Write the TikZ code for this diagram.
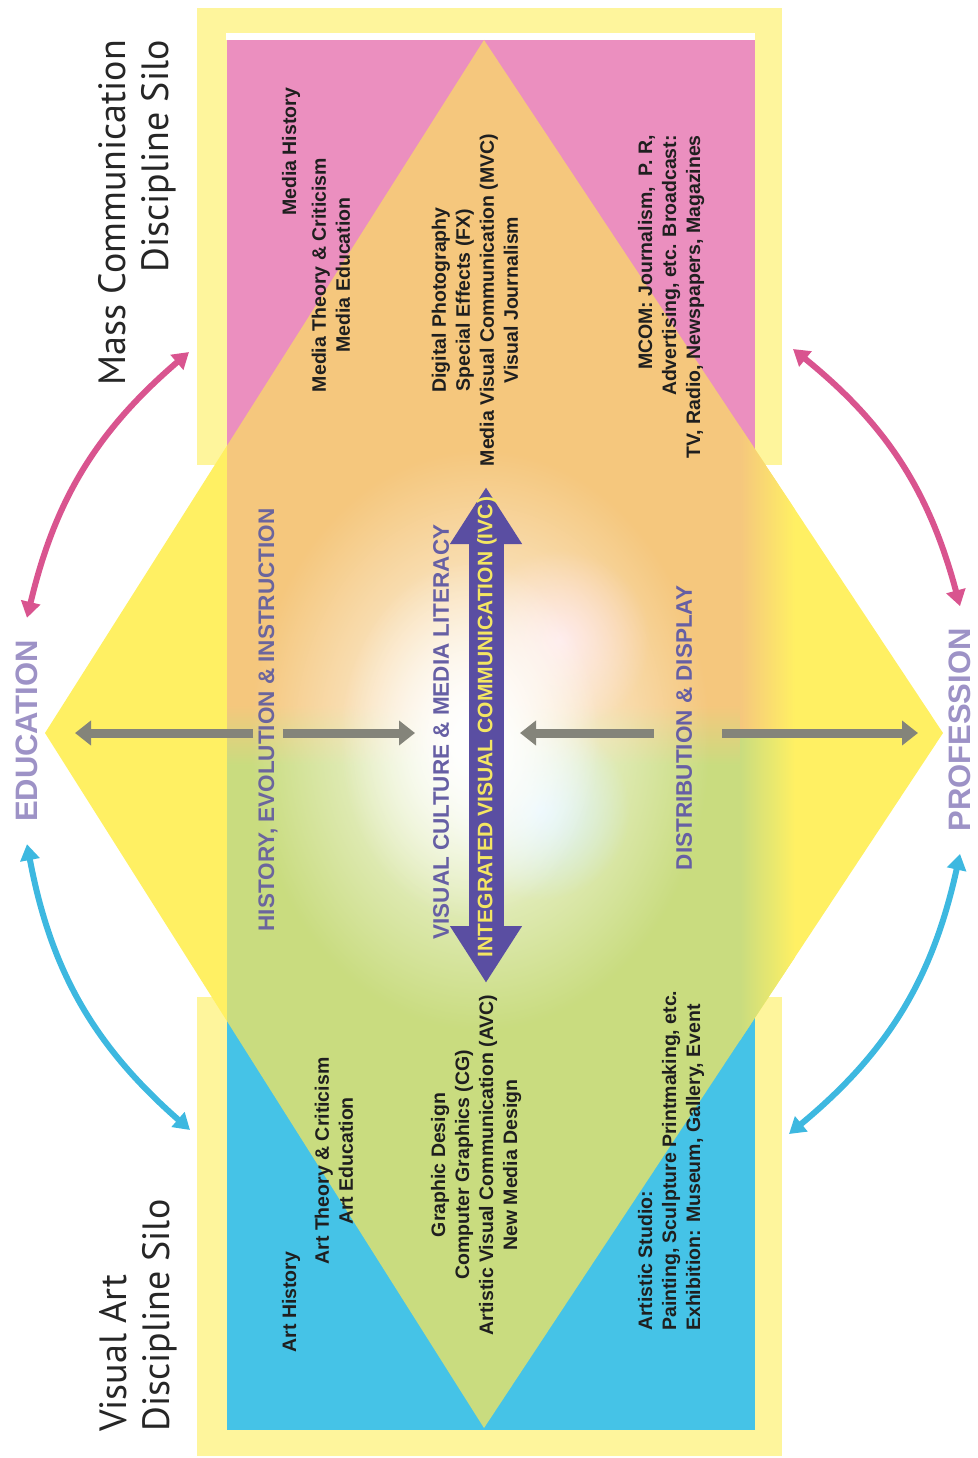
\documentclass[tikz,border=0pt]{standalone}
\usepackage{fontspec}
\setmainfont{Liberation Sans}
\newfontfamily\titlefont{PT Sans}
\usetikzlibrary{arrows.meta,fadings}
\tikzfading[name=glow, inner color=transparent!0, outer color=transparent!100]
\definecolor{pinksilo}{HTML}{EB8FBF}
\definecolor{bluesilo}{HTML}{45C3E7}
\definecolor{orangemid}{HTML}{F5C77D}
\definecolor{greenmid}{HTML}{C9DC7F}
\definecolor{yellowdia}{HTML}{FFF063}
\definecolor{yellowframe}{HTML}{FEF59C}
\definecolor{grayarr}{HTML}{84847A}
\definecolor{ivcblue}{HTML}{5A4EA2}
\definecolor{ivctext}{HTML}{F4E662}
\definecolor{headpurple}{HTML}{665FA4}
\definecolor{lavender}{HTML}{9D92C6}
\definecolor{magentaarr}{HTML}{D9548F}
\definecolor{cyanarr}{HTML}{3DB8E0}
\begin{document}
\begin{tikzpicture}[
  x=1pt, y=-1pt,
  rot/.style={rotate=90, inner sep=0pt},
  head/.style={rot, inner ysep=5pt, font=\bfseries\fontsize{22.5}{27}\selectfont, text=headpurple},
  item/.style={rot, font=\bfseries\fontsize{19.5}{24}\selectfont, text=black!88, align=center},
  silotitle/.style={rot, font=\titlefont\fontsize{38}{43}\selectfont, text=black!85},
  pole/.style={rot, inner xsep=22pt, font=\bfseries\fontsize{31}{36}\selectfont, text=lavender},
  bow/.style={line width=6pt, {Triangle[length=16pt,width=19pt]}-{Triangle[length=16pt,width=19pt]}},
  link/.style={line width=9pt, grayarr, -{Triangle[length=16pt,width=24pt]}},
  ivcarrow/.style={line width=35pt, ivcblue, {Triangle[length=57pt,width=68pt]}-{Triangle[length=57pt,width=68pt]}}
]
\useasboundingbox (0,0) rectangle (977,1458);

\fill[yellowframe] (197,8) rectangle (782,465);
\fill[yellowframe] (197,997) rectangle (782,1456);
\fill[yellowdia] (484,40) -- (943,733) -- (484,1428) -- (45,733) -- cycle;
\fill[white] (226,33) rectangle (755,40);
\fill[pinksilo] (227,40) rectangle (755,465);
\fill[bluesilo] (227,1000) rectangle (755,1430);
\begin{scope}
  \clip (484,40) -- (943,733) -- (484,1428) -- (45,733) -- cycle;
  \fill[orangemid] (227,0) rectangle (755,733);
  \fill[greenmid] (227,733) rectangle (755,1458);
  \shade[top color=orangemid, bottom color=greenmid] (227,705) rectangle (755,765);
  \shade[left color=orangemid, right color=yellowdia] (740,0) rectangle (795,733);
  \shade[left color=greenmid, right color=yellowdia] (740,733) rectangle (795,1458);
  \fill[pink!60, path fading=glow] (560,640) ellipse [x radius=90, y radius=90];
  \fill[cyan!25, path fading=glow] (540,810) ellipse [x radius=90, y radius=90];
  \fill[white, path fading=glow] (480,740) ellipse [x radius=230, y radius=290];
  \fill[white, path fading=glow] (470,740) ellipse [x radius=130, y radius=180];
\end{scope}

\coordinate (ivcN) at (486,487);
\coordinate (ivcS) at (486,983);
\draw[ivcarrow] (ivcN) -- (ivcS);

\node[silotitle, align=right, anchor=east] (mctitle) at (137,40) {Mass Communication\\Discipline Silo};
\node[silotitle, align=left, anchor=west] (vatitle) at (138,1432) {Visual Art\\Discipline Silo};
\node[pole] (edu) at (27,731) {EDUCATION};
\node[pole] (prof) at (960,730) {PROFESSION};

\node[head, text=headpurple!80!gray] (hist) at (268,720) {HISTORY, EVOLUTION \& INSTRUCTION};
\node[head] (vcml) at (441,732) {VISUAL CULTURE \& MEDIA LITERACY};
\node[head, text=ivctext, font=\bfseries\fontsize{21}{25}\selectfont] (ivc) at (487,727) {INTEGRATED VISUAL COMMUNICATION (IVC)};
\node[head] (dist) at (684,728) {DISTRIBUTION \& DISPLAY};

\node[item] (mhist) at (291,152) {Media History};
\node[item] (mtheory) at (331,275) {Media Theory \& Criticism\\Media Education};
\node[item] (mvc) at (475,300) {Digital Photography\\Special Effects (FX)\\Media Visual Communication (MVC)\\Visual Journalism};
\node[item, align=right, anchor=east] (mcom) at (671,135) {MCOM: Journalism,\ \ P. R,\\Advertising, etc. Broadcast:\\TV, Radio, Newspapers, Magazines};

\node[item] (ahist) at (291,1302) {Art History};
\node[item] (atheory) at (334,1161) {Art Theory \& Criticism\\Art Education};
\node[item] (avc) at (476,1165) {Graphic Design\\Computer Graphics (CG)\\Artistic Visual Communication (AVC)\\New Media Design};
\node[item, align=left, anchor=west] (studio) at (671,1331) {Artistic Studio:\\Painting, Sculpture Printmaking, etc.\\Exhibition: Museum, Gallery, Event};

\coordinate (tipL) at (75,733);
\coordinate (tipC) at (415,733);
\coordinate (tipD) at (520,733);
\coordinate (tipR) at (918,733);
\draw[link] (hist.north |- tipL) -- (tipL);
\draw[link] (hist.south |- tipL) -- (tipC);
\draw[link, shorten <=17pt] (dist.north |- tipD) -- (tipD);
\draw[link, shorten <=25pt] (dist.south |- tipR) -- (tipR);

\coordinate (mcW) at (189,352);
\coordinate (vaW) at (190,1130);
\coordinate (mcE) at (793,349);
\coordinate (vaE) at (789,1134);
\draw[bow, magentaarr] (edu.east) to[bend left=18] (mcW);
\draw[bow, cyanarr] (edu.west) to[bend right=19] (vaW);
\draw[bow, magentaarr] (mcE) to[bend left=18] (prof.east);
\draw[bow, cyanarr] (prof.west) to[bend left=19] (vaE);
\end{tikzpicture}
\end{document}
